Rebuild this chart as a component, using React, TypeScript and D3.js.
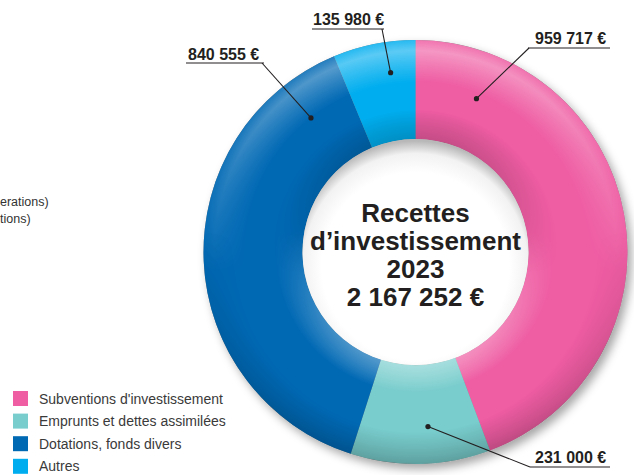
import React from "react";
import * as d3 from "d3";

const categories = [
  "Subventions d'investissement",
  "Emprunts et dettes assimilées",
  "Dotations, fonds divers",
  "Autres",
];
const values = [959717, 231000, 840555, 135980];
const valueLabels = ["959 717 €", "231 000 €", "840 555 €", "135 980 €"];
const colors = ["#EF5DA3", "#79CDCD", "#0069B4", "#00AEEF"];
const titleLines = ["Recettes", "d’investissement", "2023", "2 167 252 €"];
const cutLines = ["erations)", "tions)"];

// annotation layout: fraction along slice for dot, radius for dot, label placement
const annot = [
  { t: 0.136, r: 165, tx: 535, ty: 44, ux1: 528, ux2: 610, uy: 48, lx: 529 },
  { t: 0.43, r: 175, tx: 535, ty: 463, ux1: 530, ux2: 610, uy: 467, lx: 530 },
  { t: 0.89, r: 170, tx: 188, ty: 60, ux1: 186, ux2: 264, uy: 63, lx: 262 },
  { t: 0.65, r: 181, tx: 313, ty: 25, ux1: 312, ux2: 384, uy: 29, lx: 382 },
];
const cutLayout = [
  { x: 0, y: 206 },
  { x: 0, y: 223 },
];

const W = 634;
const H = 475;
const cx = 415.5;
const cy = 252;
const R = 212;
const r0 = 113;

export default function App() {
  const pie = d3.pie<number>().value((d) => d).sort(null).startAngle(0).endAngle(2 * Math.PI);
  const arcs = pie(values);
  const arcGen = d3.arc<d3.PieArcDatum<number>>().innerRadius(r0).outerRadius(R);
  const ringPath = d3.arc()({ innerRadius: r0, outerRadius: R, startAngle: 0, endAngle: 2 * Math.PI }) as string;
  const ir = r0 / R;

  const legendScale = d3.scaleBand<string>().domain(categories).range([391, 391 + 4 * 22.6]);

  return (
    <svg width={W} height={H} style={{ position: "fixed", left: 0, top: 0, background: "#fff" }}
      fontFamily="'Liberation Sans', Arial, sans-serif">
      <defs>
        <filter id="shadow" x="-20%" y="-20%" width="140%" height="140%">
          <feDropShadow dx="4" dy="5" stdDeviation="5" floodColor="#000" floodOpacity="0.35" />
        </filter>
        <radialGradient id="outerLight" gradientUnits="userSpaceOnUse" cx={0} cy={0} r={R}>
          <stop offset={0.8} stopColor="#fff" stopOpacity={0} />
          <stop offset={0.95} stopColor="#fff" stopOpacity={0.38} />
          <stop offset={1} stopColor="#fff" stopOpacity={0.15} />
        </radialGradient>
        <radialGradient id="outerDark" gradientUnits="userSpaceOnUse" cx={0} cy={0} r={R}>
          <stop offset={0.85} stopColor="#000" stopOpacity={0} />
          <stop offset={1} stopColor="#000" stopOpacity={0.22} />
        </radialGradient>
        <radialGradient id="innerDark" gradientUnits="userSpaceOnUse" cx={0} cy={0} r={R}>
          <stop offset={ir} stopColor="#000" stopOpacity={0.3} />
          <stop offset={ir + 0.14} stopColor="#000" stopOpacity={0} />
        </radialGradient>
        <radialGradient id="innerLight" gradientUnits="userSpaceOnUse" cx={0} cy={0} r={R}>
          <stop offset={ir} stopColor="#fff" stopOpacity={0.6} />
          <stop offset={ir + 0.13} stopColor="#fff" stopOpacity={0} />
        </radialGradient>
        <linearGradient id="topFade" gradientUnits="userSpaceOnUse" x1={0} y1={-R} x2={0} y2={R}>
          <stop offset={0} stopColor="#fff" />
          <stop offset={0.55} stopColor="#000" />
        </linearGradient>
        <linearGradient id="botFade" gradientUnits="userSpaceOnUse" x1={0} y1={-R} x2={0} y2={R}>
          <stop offset={0.45} stopColor="#000" />
          <stop offset={1} stopColor="#fff" />
        </linearGradient>
        <mask id="topMask" maskUnits="userSpaceOnUse" x={-R} y={-R} width={2 * R} height={2 * R}>
          <rect x={-R} y={-R} width={2 * R} height={2 * R} fill="url(#topFade)" />
        </mask>
        <mask id="botMask" maskUnits="userSpaceOnUse" x={-R} y={-R} width={2 * R} height={2 * R}>
          <rect x={-R} y={-R} width={2 * R} height={2 * R} fill="url(#botFade)" />
        </mask>
        <radialGradient id="hole" gradientUnits="userSpaceOnUse" cx={0} cy={14} r={r0 + 12}>
          <stop offset={0.75} stopColor="#fff" />
          <stop offset={0.9} stopColor="#f2f2f2" />
          <stop offset={1} stopColor="#b8b8b8" />
        </radialGradient>
      </defs>

      {/* cut-off text from neighbouring graphic */}
      {cutLines.map((s, i) => (
        <text key={s} x={cutLayout[i].x} y={cutLayout[i].y} fontSize={12.5} fill="#333">
          {s}
        </text>
      ))}

      <g transform={`translate(${cx},${cy})`}>
        <path d={ringPath} fill="#888" filter="url(#shadow)" />
        {arcs.map((a, i) => (
          <path key={i} d={arcGen(a) as string} fill={colors[i]} />
        ))}
        <path d={ringPath} fill="url(#outerLight)" mask="url(#topMask)" />
        <path d={ringPath} fill="url(#outerDark)" mask="url(#botMask)" />
        <path d={ringPath} fill="url(#innerDark)" mask="url(#topMask)" />
        <path d={ringPath} fill="url(#innerLight)" mask="url(#botMask)" />
        <circle r={r0} fill="url(#hole)" />
        {titleLines.map((s, i) => (
          <text key={i} x={0} y={-30 + i * 28} textAnchor="middle" fontSize={26} fontWeight="bold" fill="#231f20">
            {s}
          </text>
        ))}
      </g>

      {arcs.map((a, i) => {
        const an = annot[i];
        const ang = a.startAngle + (a.endAngle - a.startAngle) * an.t;
        const dx = cx + an.r * Math.sin(ang);
        const dy = cy - an.r * Math.cos(ang);
        return (
          <g key={i}>
            <line x1={an.lx} y1={an.uy} x2={dx} y2={dy} stroke="#231f20" strokeWidth={1.1} />
            <line x1={an.ux1} y1={an.uy} x2={an.ux2} y2={an.uy} stroke="#231f20" strokeWidth={1.2} />
            <circle cx={dx} cy={dy} r={2.6} fill="#231f20" />
            <text x={an.tx} y={an.ty} fontSize={16} fontWeight="bold" fill="#231f20">
              {valueLabels[i]}
            </text>
          </g>
        );
      })}

      {categories.map((c, i) => {
        const y = legendScale(c) as number;
        return (
          <g key={c}>
            <rect x={13} y={y} width={15} height={15} fill={colors[i]} />
            <text x={39} y={y + 12.5} fontSize={14} fill="#3a3a3a">
              {c}
            </text>
          </g>
        );
      })}
    </svg>
  );
}
